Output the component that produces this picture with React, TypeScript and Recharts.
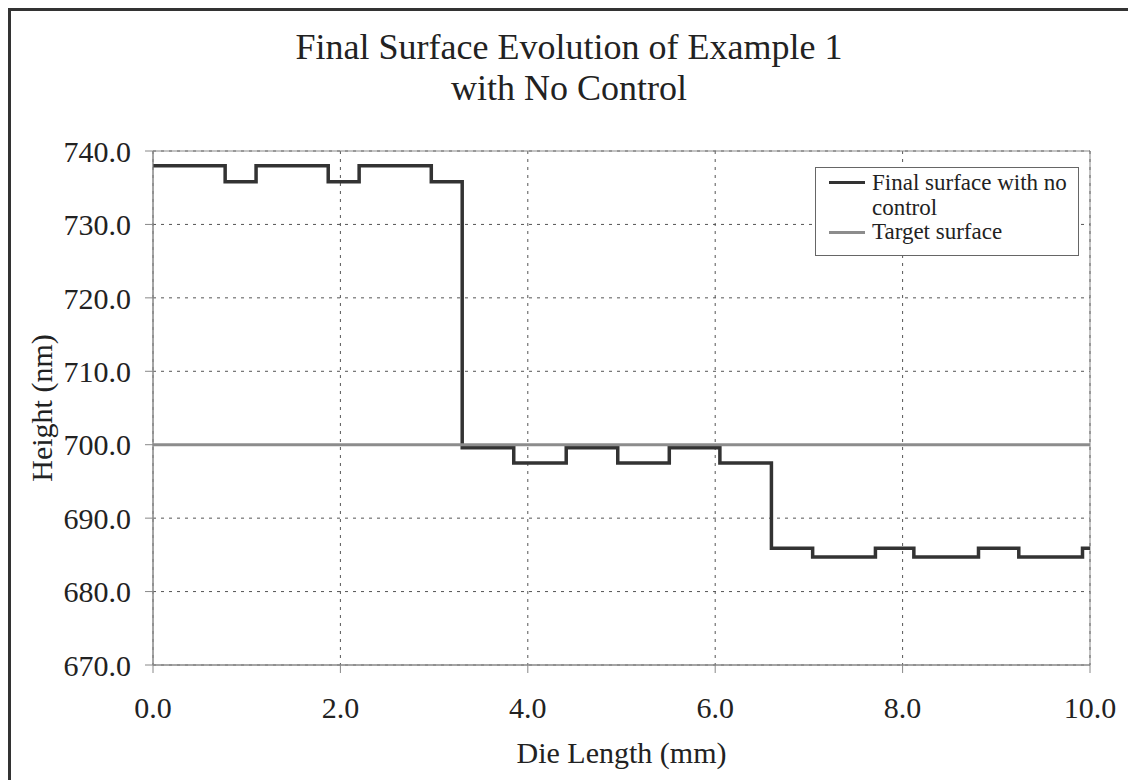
import { LineChart, Line, XAxis, YAxis, CartesianGrid, Legend, ReferenceArea } from "recharts";

const surfaceX = [0, 0.77, 1.1, 1.87, 2.2, 2.97, 3.3, 3.85, 4.41, 4.96, 5.51, 6.05, 6.6, 7.04, 7.71, 8.12, 8.81, 9.24, 9.92, 10.0];
const surfaceY = [738.0, 735.8, 738.0, 735.8, 738.0, 735.8, 699.6, 697.5, 699.6, 697.5, 699.6, 697.5, 685.9, 684.7, 685.9, 684.7, 685.9, 684.7, 685.9, 685.9];
const targetX = [0, 10];
const targetY = [700, 700];
const xTicks = [0, 2, 4, 6, 8, 10];
const yTicks = [670, 680, 690, 700, 710, 720, 730, 740];

const surfaceData = surfaceX.map((x, i) => ({ x, y: surfaceY[i] }));
const targetData = targetX.map((x, i) => ({ x, y: targetY[i] }));

const serif = '"Liberation Serif", "Times New Roman", serif';
const dark = "#333";
const gray = "#8c8c8c";

const LegendBox = () => (
  <div
    style={{
      position: "relative",
      width: 264,
      height: 89,
      border: "1px solid #666",
      background: "#fff",
      boxSizing: "border-box",
      fontFamily: serif,
      fontSize: 23,
      color: "#222",
    }}
  >
    <div style={{ position: "absolute", left: 13, top: 13, width: 36, height: 3, background: dark }} />
    <div style={{ position: "absolute", left: 56, top: 2, width: 205, lineHeight: "25px" }}>
      Final surface with no control
    </div>
    <div style={{ position: "absolute", left: 13, top: 63, width: 36, height: 3, background: gray }} />
    <div style={{ position: "absolute", left: 56, top: 51, lineHeight: "25px", whiteSpace: "nowrap" }}>
      Target surface
    </div>
  </div>
);

export default function App() {
  return (
    <div style={{ position: "relative", width: 1128, height: 772, fontFamily: serif }}>
      <style>{"html,body{overflow:hidden}"}</style>
      <div
        style={{
          position: "absolute",
          left: 0,
          top: 0,
          width: 1128,
          height: 772,
          borderTop: `3px solid ${dark}`,
          borderLeft: `3px solid ${dark}`,
          boxSizing: "border-box",
        }}
      />
      <div
        style={{
          position: "absolute",
          left: 0,
          top: 19,
          width: 1122,
          textAlign: "center",
          fontSize: 36,
          lineHeight: "41px",
          color: "#222",
        }}
      >
        Final Surface Evolution of Example 1
        <br />
        with No Control
      </div>
      <LineChart
        width={1128}
        height={772}
        margin={{ top: 143, right: 46, bottom: 55, left: 0 }}
        style={{ position: "absolute", left: 0, top: 0 }}
      >
        <CartesianGrid stroke="#555" strokeDasharray="3 5" horizontalValues={yTicks} verticalValues={xTicks} />
        <ReferenceArea x1={0} x2={10} y1={670} y2={740} fill="none" stroke="#888" strokeWidth={1} />
        <XAxis
          type="number"
          dataKey="x"
          domain={[0, 10]}
          ticks={xTicks}
          tickFormatter={(v: number) => v.toFixed(1)}
          height={60}
          tickSize={8}
          tickMargin={24}
          stroke="#888"
          tick={{ fontSize: 30, fill: "#222", fontFamily: serif }}
          label={{ value: "Die Length (mm)", position: "bottom", offset: 17, fontSize: 30, fill: "#222", fontFamily: serif }}
          allowDuplicatedCategory={false}
        />
        <YAxis
          type="number"
          domain={[670, 740]}
          ticks={yTicks}
          tickFormatter={(v: number) => v.toFixed(1)}
          width={145}
          tickSize={8}
          tickMargin={14}
          stroke="#888"
          tick={{ fontSize: 30, fill: "#222", fontFamily: serif }}
          label={{
            value: "Height (nm)",
            angle: -90,
            position: "insideLeft",
            offset: 33,
            fontSize: 30,
            fill: "#222",
            fontFamily: serif,
            style: { textAnchor: "middle" },
          }}
        />
        <Legend
          layout="vertical"
          align="center"
          verticalAlign="middle"
          content={() => <LegendBox />}
          wrapperStyle={{ position: "absolute", left: 807, top: 159, width: 264 }}
        />
        <Line
          data={surfaceData}
          dataKey="y"
          name="Final surface with no control"
          type="stepAfter"
          stroke={dark}
          strokeWidth={3.5}
          dot={false}
          isAnimationActive={false}
        />
        <Line
          data={targetData}
          dataKey="y"
          name="Target surface"
          type="linear"
          stroke={gray}
          strokeWidth={3}
          dot={false}
          isAnimationActive={false}
        />
      </LineChart>
    </div>
  );
}
